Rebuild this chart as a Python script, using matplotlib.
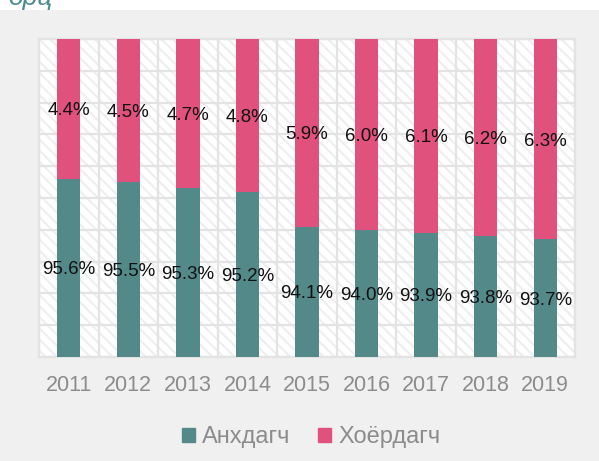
import matplotlib.pyplot as plt
import matplotlib.patches as mpatches
import numpy as np

# data
years = ["2011", "2012", "2013", "2014", "2015", "2016", "2017", "2018", "2019"]
primary = [95.6, 95.5, 95.3, 95.2, 94.1, 94.0, 93.9, 93.8, 93.7]
secondary = [4.4, 4.5, 4.7, 4.8, 5.9, 6.0, 6.1, 6.2, 6.3]
series_names = ["Анхдагч", "Хоёрдагч"]

TEAL = "#538a89"
PINK = "#e0527d"
GRID = "#e3e3e3"
TICK = "#8c8c8c"
Y_MIN, Y_MAX = 90, 100

plt.rcParams["font.family"] = ["Liberation Sans", "DejaVu Sans"]
plt.rcParams["hatch.linewidth"] = 1.5

fig = plt.figure(figsize=(5.99, 4.61), dpi=100, facecolor="#f0f0f0")
# white strip at the very top with the clipped title
fig.patches.append(mpatches.Rectangle((0, 1 - 10 / 461), 1, 10 / 461, transform=fig.transFigure,
                                      facecolor="white", edgecolor="none", zorder=0))
fig.text(8 / 599, 1 - 5 / 461, "орц", fontsize=19, style="italic", color="#4f8a90",
         ha="left", va="baseline")

ax = fig.add_axes([39 / 599, 1 - 357 / 461, 536 / 599, 318 / 461])
ax.set_facecolor("white")
ax.add_patch(mpatches.Rectangle((0, 0), 1, 1, transform=ax.transAxes, facecolor="white",
                                edgecolor="#eeeeee", hatch="\\\\\\", linewidth=0, zorder=0))

x = np.arange(len(years))
w = 0.39
ax.bar(x, primary, w, color=TEAL, zorder=3)
ax.bar(x, secondary, w, bottom=primary, color=PINK, zorder=3)

for i in range(len(years)):
    ax.text(x[i], (Y_MIN + primary[i]) / 2, f"{primary[i]:.1f}%", ha="center", va="center_baseline",
            fontsize=13.5, color="#111111", zorder=5)
    ax.text(x[i], (primary[i] + min(primary[i] + secondary[i], Y_MAX)) / 2, f"{secondary[i]:.1f}%",
            ha="center", va="center_baseline", fontsize=13.5, color="#111111", zorder=5)

ax.set_xlim(-0.5, len(years) - 0.5)
ax.set_ylim(Y_MIN, Y_MAX)
ax.set_xticks(x)
ax.set_xticklabels(years)
ax.set_xticks(np.arange(len(years) + 1) - 0.5, minor=True)
ax.set_yticks(np.arange(Y_MIN, Y_MAX + 1, 1))
ax.set_yticklabels([])
ax.tick_params(axis="both", which="both", length=0)
ax.tick_params(axis="x", labelsize=15.5, colors=TICK, pad=13)
ax.grid(axis="x", which="minor", color=GRID, linewidth=1.6, zorder=1)
ax.grid(axis="y", which="major", color=GRID, linewidth=1.6, zorder=1)
for s in ax.spines.values():
    s.set_color(GRID)
    s.set_linewidth(1.6)

handles = [mpatches.Patch(color=TEAL), mpatches.Patch(color=PINK)]
fig.legend(handles, series_names, loc="center", bbox_to_anchor=(311 / 599, 1 - 437 / 461), ncol=2,
           frameon=False, fontsize=17, labelcolor=TICK, handlelength=0.55, handleheight=0.55,
           handletextpad=0.3, columnspacing=1.2, borderpad=0)

fig.savefig("out.png", dpi=100, facecolor=fig.get_facecolor())
